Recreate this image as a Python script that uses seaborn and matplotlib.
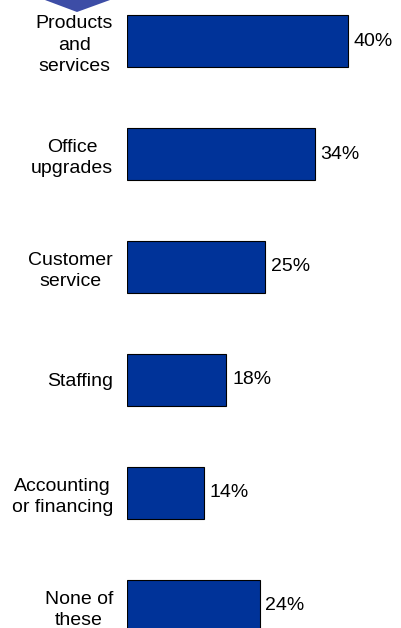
import matplotlib
matplotlib.use("Agg")
import matplotlib.pyplot as plt
import seaborn as sns
import pandas as pd

categories = [
    "Products\nand\nservices",
    "Office\nupgrades",
    "Customer\nservice",
    "Staffing",
    "Accounting\nor financing",
    "None of\nthese",
]
shares = [40, 34, 25, 18, 14, 24]
value_labels = ["40%", "34%", "25%", "18%", "14%", "24%"]

df = pd.DataFrame({"category": categories, "share": shares})

sns.set_theme(style="white")
plt.rcParams["font.family"] = ["Liberation Sans", "DejaVu Sans"]

W, H = 401, 628
fig = plt.figure(figsize=(W / 100, H / 100), dpi=100)
fig.patch.set_facecolor("white")

left_px, right_px = 127, 392
ax = fig.add_axes([left_px / W, 0, (right_px - left_px) / W, 1])

sns.barplot(
    data=df, x="share", y="category", orient="h",
    color="#003399", saturation=1, width=0.46,
    edgecolor="black", linewidth=0.8, ax=ax,
)

ax.set_xlim(0, (right_px - left_px) / 5.525)
ax.set_ylim(5.195, -0.363)

ax.bar_label(ax.containers[0], labels=value_labels, padding=4,
             fontsize=14, color="black")

ax.set_xlabel("")
ax.set_ylabel("")
ax.set_xticks([])
ax.tick_params(axis="y", length=0, pad=10, labelsize=14, labelcolor="black")
for t in ax.get_yticklabels():
    t.set_multialignment("center")
    t.set_linespacing(1.33)
for s in ax.spines.values():
    s.set_visible(False)
ax.set_facecolor("white")

# downward-pointing arrow tip peeking in from the top edge
arrow = plt.Polygon(
    [(45 / W, 1.0), (110 / W, 1.0), (77 / W, 1 - 12 / H)],
    closed=True, transform=fig.transFigure,
    facecolor="#3D4DA6", edgecolor="none",
)
fig.patches.append(arrow)

fig.savefig("out.png", dpi=100, facecolor="white")
